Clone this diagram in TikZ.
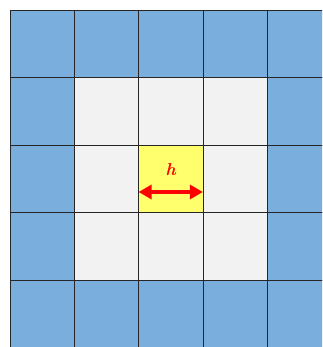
\documentclass[tikz,border=0pt]{standalone}
\usetikzlibrary{arrows.meta, positioning}

\definecolor{cellblue}{HTML}{7AAFDD}
\definecolor{cellgray}{HTML}{F2F2F2}
\definecolor{cellyellow}{HTML}{FFFF6E}
\definecolor{hred}{HTML}{FF0000}

\begin{document}
\begin{tikzpicture}[x=1pt, y=-1pt,
    cell/.style={draw=black!85, line width=0.8pt, inner sep=0pt, outer sep=0pt,
                 minimum width=64.3pt, minimum height=67.6pt},
    harrow/.style={hred, line width=3.5pt,
                   {Triangle[length=13pt,width=14pt]}-{Triangle[length=13pt,width=14pt]}},
    hlabel/.style={text=hred, font=\LARGE\bfseries\itshape, inner sep=0pt}]
    % ==========================================
    % PARAMETRI DELLA GRIGLIA
    % ==========================================
    \def\w{64.3}   % larghezza cella
    \def\h{67.6}   % altezza cella
    \def\xo{10}    % margine sinistro
    \def\yo{10}    % margine superiore

    \useasboundingbox (0,0) rectangle (322,347);
    \clip (0,0) rectangle (322,347);

    % ==========================================
    % CELLE 5x5 (bordo blu, interno grigio, centro giallo)
    % ==========================================
    \foreach \r in {1,...,5} {
        \foreach \c in {1,...,5} {
            \def\cellcol{cellgray}
            \ifnum\r=1 \def\cellcol{cellblue}\fi
            \ifnum\r=5 \def\cellcol{cellblue}\fi
            \ifnum\c=1 \def\cellcol{cellblue}\fi
            \ifnum\c=5 \def\cellcol{cellblue}\fi
            \ifnum\r=3 \ifnum\c=3 \def\cellcol{cellyellow}\fi\fi
            \node [cell, fill=\cellcol] (c-\r-\c) at ({\xo+(\c-0.5)*\w}, {\yo+(\r-0.5)*\h}) {};
        }
    }

    % ==========================================
    % PASSO h NELLA CELLA CENTRALE
    % ==========================================
    \draw [harrow] ([yshift=-13pt]c-3-3.west) -- ([yshift=-13pt]c-3-3.east);
    \node [hlabel] (hlbl) at ([yshift=9pt]c-3-3.center) {h};

\end{tikzpicture}
\end{document}
